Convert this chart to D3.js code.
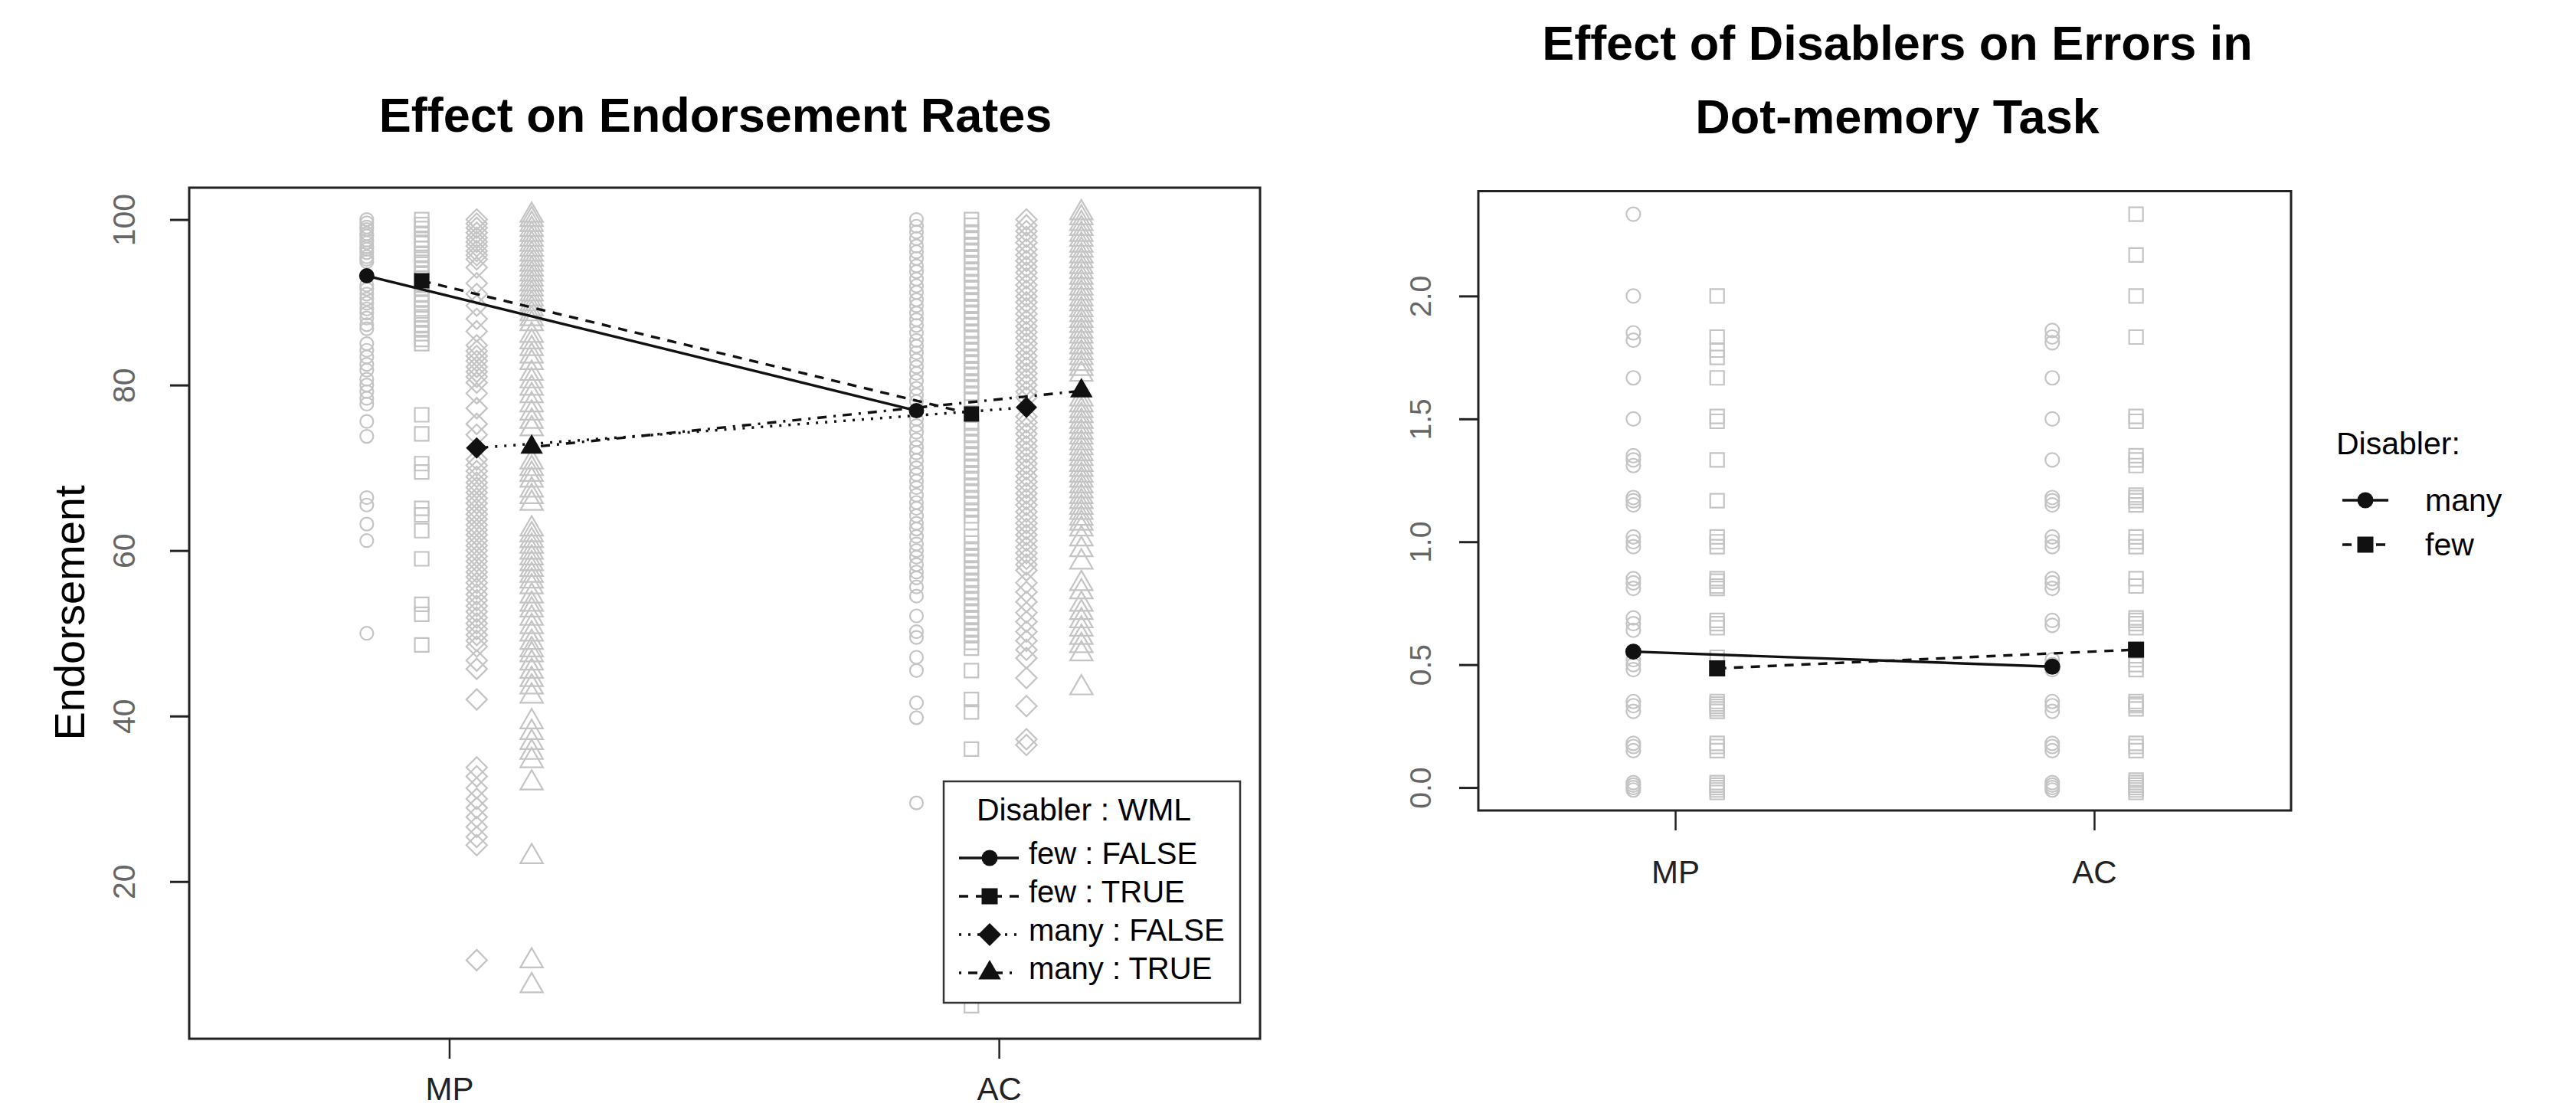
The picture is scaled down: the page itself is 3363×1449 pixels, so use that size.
<!DOCTYPE html>
<html>
<head>
<meta charset="utf-8">
<script src="https://cdn.jsdelivr.net/npm/d3@7"></script>
<style>
body { margin: 0; background: #fff; }
text { font-family: "Liberation Sans", Arial, sans-serif; }
</style>
</head>
<body>
<script>
// ---------------- data ----------------
const conditions = ["MP", "AC"];

// left panel: Disabler : WML
const leftGroups = ["few : FALSE", "few : TRUE", "many : FALSE", "many : TRUE"];
const meanFewFalse = [93.2, 76.9];
const meanFewTrue = [92.6, 76.5];
const meanManyFalse = [72.4, 77.3];
const meanManyTrue = [72.5, 79.3];

const rawFewFalseMP = [100, 99.6, 99.1, 98.8, 98.3, 98, 97.5, 97.2, 96.7, 96.4, 96, 95.5, 95.2, 94.9,
  92.1, 91.6, 91, 90.4, 89.9, 89.2, 88.7, 88.1, 87.3, 86.8, 85, 84.2, 83.4, 82.5, 81.8, 80.7, 80, 79.2,
  78.4, 77.7, 75.6, 73.8, 66.4, 65.5, 63.2, 61.2, 50];
const rawFewFalseAC = [100, 99.2, 98.5, 97.7, 96.8, 96.1, 95.3, 94.4, 93.7, 92.8, 92, 91.2, 90.3, 89.6,
  88.7, 87.9, 87.2, 86.3, 85.4, 84.7, 83.9, 83, 82.2, 81.4, 80.5, 79.6, 78.8, 78, 75.9, 75.1, 74.3, 73.4,
  72.5, 71.8, 70.9, 70, 69.2, 68.4, 67.6, 66.7, 65.8, 65.1, 64.2, 63.3, 62.6, 61.7, 60.8, 60, 59.2, 58.3,
  57.4, 56.7, 55.6, 54.5, 52.1, 50.2, 49.5, 47.1, 45.5, 41.6, 39.8, 29.5];
const rawFewTrueMP = [100, 99.4, 98.9, 98.2, 97.6, 97.1, 96.5, 95.8, 95.2, 94.6, 94, 93.4, 92.9, 92.2,
  91.7, 91, 90.4, 89.9, 89.2, 88.6, 88, 87.3, 86.8, 86.2, 85.5, 85, 76.4, 74.1, 70.5, 69.5, 65.1, 64.3,
  62.4, 59, 53.5, 52.3, 48.6];
const rawFewTrueAC = [100, 99.3, 98.5, 97.8, 97, 96.3, 95.5, 94.8, 94, 93.3, 92.5, 91.8, 91, 90.3, 89.5,
  88.8, 88, 87.3, 86.5, 85.8, 85, 84.3, 83.5, 82.8, 82, 81.3, 80.5, 79.8, 79, 78.3, 75.4, 74.7, 73.9, 73.2,
  72.4, 71.7, 70.9, 70.2, 69.4, 68.7, 67.9, 67.2, 66.4, 65.7, 64.9, 64.2, 63.4, 61.7, 60.9, 60.2, 59.4,
  58.7, 57.9, 57.2, 56.4, 55.7, 54.9, 54.2, 53.4, 52.7, 51.9, 51.2, 50.4, 49.7, 48.9, 48.2, 45.5, 42, 40.5,
  36, 5];
const rawManyFalseMP = [100, 99.5, 99, 98.4, 97.8, 97.3, 96.8, 96.2, 95.7, 95.2, 94.2, 92.3, 91, 89.6, 88,
  86.5, 84.8, 84.1, 83.5, 82.9, 82.2, 81.6, 81, 80.3, 79, 77.2, 75.3, 74, 71, 70.3, 69.6, 68.9, 68.2, 67.6,
  67, 66.3, 65.7, 65, 64.4, 63.8, 63.1, 62.5, 61.9, 61.2, 60.6, 60, 59.3, 58.7, 58, 57.4, 56.8, 56.1, 55.4,
  54.7, 54, 53.3, 52.6, 51.9, 51.2, 50.5, 49.8, 49.1, 48.4, 46.7, 45.7, 42, 33.8, 32.7, 31.3, 30, 28.9, 27.8,
  26.6, 25.4, 24.4, 10.5];
const rawManyFalseAC = [100, 99.3, 98.6, 97.9, 97.2, 96.4, 95.7, 95, 94.3, 93.6, 92.9, 92.1, 91.4, 90.7,
  90, 89.3, 88.6, 87.8, 87.1, 86.4, 85.7, 85, 84.3, 83.5, 82.8, 82.1, 81.4, 80.7, 80, 79.2, 78.5, 76.2,
  75.5, 74.8, 74.1, 73.3, 72.6, 71.9, 71.2, 70.5, 69.8, 69, 68.3, 67.6, 66.9, 66.2, 65.5, 64.7, 64, 63.3,
  62.6, 61.9, 61.2, 60.4, 59.7, 59, 58.3, 57.6, 56.1, 55, 53.8, 52.5, 51.4, 50.2, 49.1, 48, 47, 44.6, 41.2,
  37.2, 36.5];
const rawManyTrueMP = [100.5, 100, 99.4, 98.8, 98.2, 97.6, 97, 96.4, 95.8, 95.2, 94.6, 94, 93.4, 92.8,
  92.2, 91.6, 91, 90.4, 89.8, 89.2, 88.6, 88, 87.4, 86, 85.2, 84.4, 83.5, 82.7, 81.4, 80.5, 79.6, 78.7,
  77.6, 76.6, 75.6, 74.7, 70.7, 69.9, 69.2, 68.5, 67.3, 66.5, 65.7, 62.6, 61.9, 61.2, 60.5, 59.8, 59.1,
  58.4, 57.7, 57, 56.3, 55.6, 54.5, 53.5, 52.8, 51.8, 50.8, 49.9, 48.9, 48, 47.4, 46.4, 45.4, 44.4, 43.5,
  42.4, 39.3, 38, 36.8, 35.6, 34.6, 31.9, 23, 10.4, 7.4];
const rawManyTrueAC = [100.8, 100.2, 99.5, 98.9, 98.2, 97.6, 96.9, 96.3, 95.6, 95, 94.3, 93.7, 93, 92.4,
  91.7, 91.1, 90.4, 89.8, 89.1, 88.5, 87.8, 87.2, 86.5, 85.9, 85.2, 84.6, 83.9, 83.3, 82.6, 82, 81.3, 78.3,
  77.6, 76.9, 76.3, 75.6, 75, 74.3, 73.7, 73, 72.4, 71.7, 71.1, 70.4, 69.8, 69.1, 68.5, 67.8, 67.2, 66.5,
  65.9, 65.2, 64.6, 63.9, 63.3, 62.6, 61.4, 60.1, 58.6, 56, 55, 53.5, 52.5, 51.5, 50.5, 49.5, 48.5, 47.5, 43.4];
const leftYTicks = [20, 40, 60, 80, 100];

// right panel: Disabler
const rightGroups = ["many", "few"];
const meanMany = [0.553, 0.492];
const meanFew = [0.485, 0.561];
const rawManyMP = [2.333, 2.0, 1.85, 1.82, 1.667, 1.5, 1.35, 1.333, 1.31, 1.18, 1.167, 1.15, 1.02, 1.0,
  0.98, 0.85, 0.833, 0.81, 0.69, 0.667, 0.64, 0.52, 0.5, 0.48, 0.35, 0.333, 0.31, 0.18, 0.167, 0.15, 0.02,
  0.01, 0, -0.01];
const rawManyAC = [1.86, 1.833, 1.81, 1.667, 1.5, 1.333, 1.18, 1.167, 1.15, 1.02, 1.0, 0.98, 0.85, 0.833,
  0.81, 0.68, 0.66, 0.52, 0.5, 0.48, 0.35, 0.333, 0.31, 0.18, 0.167, 0.15, 0.02, 0.01, 0, -0.01];
const rawFewMP = [2.0, 1.833, 1.78, 1.75, 1.667, 1.51, 1.49, 1.333, 1.167, 1.02, 1.0, 0.98, 0.85, 0.84,
  0.82, 0.81, 0.68, 0.667, 0.65, 0.53, 0.35, 0.34, 0.33, 0.32, 0.31, 0.18, 0.167, 0.15, 0.02, 0.01, 0,
  -0.01, -0.02];
const rawFewAC = [2.333, 2.167, 2.0, 1.833, 1.51, 1.49, 1.35, 1.333, 1.31, 1.19, 1.18, 1.167, 1.15, 1.02,
  1.0, 0.98, 0.85, 0.82, 0.69, 0.68, 0.667, 0.65, 0.52, 0.5, 0.48, 0.35, 0.34, 0.333, 0.32, 0.18, 0.167,
  0.15, 0.03, 0.02, 0.01, 0, -0.01, -0.02];
const rightYTicks = [0, 0.5, 1.0, 1.5, 2.0];

// ---------------- drawing ----------------
const W = 3363, H = 1449;
const GREY = "#c4c4c4";
const INK = "#111";

const svg = d3.select("body").append("svg")
  .attr("width", W)
  .attr("height", H)
  .style("background", "#fff");

// R-like plotting symbols, s = half size
function shape(type, s) {
  if (type === "circle") return `M${-s},0a${s},${s} 0 1,0 ${2 * s},0a${s},${s} 0 1,0 ${-2 * s},0Z`;
  if (type === "square") return `M${-s},${-s}h${2 * s}v${2 * s}h${-2 * s}Z`;
  if (type === "diamond") return `M0,${-s}L${s},0L0,${s}L${-s},0Z`;
  const h = s * Math.sqrt(3) / 2;
  return `M0,${-s}L${h},${s / 2}L${-h},${s / 2}Z`;
}
const openSize = { circle: 8.5, square: 9, diamond: 13.5, triangle: 17 };
const fillSize = { circle: 10, square: 10, diamond: 14, triangle: 17 };

function drawPanel(opt) {
  const x = d3.scaleLinear().domain(opt.xDomain).range([opt.left, opt.right]);
  const y = d3.scaleLinear().domain(opt.yDomain).range([opt.bottom, opt.top]);
  const g = svg.append("g");

  // raw observations
  opt.series.forEach((s, si) => {
    s.raw.forEach((vals, ci) => {
      g.append("g").selectAll("path")
        .data(vals)
        .join("path")
        .attr("d", shape(s.shape, opt.openSize[s.shape]))
        .attr("transform", d => `translate(${x(ci + 1 + opt.offsets[si])},${y(d)})`)
        .attr("fill", "none")
        .attr("stroke", GREY)
        .attr("stroke-width", 2.2);
    });
  });

  // mean lines
  opt.series.forEach((s, si) => {
    g.append("path")
      .attr("d", d3.line()
        .x((d, i) => x(i + 1 + opt.offsets[si]))
        .y(d => y(d))(s.means))
      .attr("fill", "none")
      .attr("stroke", INK)
      .attr("stroke-width", 3.4)
      .attr("stroke-dasharray", s.dash);
  });

  // mean symbols
  opt.series.forEach((s, si) => {
    g.append("g").selectAll("path")
      .data(s.means)
      .join("path")
      .attr("d", shape(s.shape, opt.fillSize[s.shape]))
      .attr("transform", (d, i) => `translate(${x(i + 1 + opt.offsets[si])},${y(d)})`)
      .attr("fill", INK);
  });

  // box
  g.append("rect")
    .attr("x", opt.left).attr("y", opt.top)
    .attr("width", opt.right - opt.left).attr("height", opt.bottom - opt.top)
    .attr("fill", "none").attr("stroke", "#222").attr("stroke-width", 3);

  // y axis
  const ya = g.append("g")
    .attr("transform", `translate(${opt.left},0)`)
    .call(d3.axisLeft(y).tickValues(opt.yTicks).tickSize(25).tickFormat(opt.yFormat));
  ya.select(".domain").remove();
  ya.selectAll(".tick line").attr("stroke", "#222").attr("stroke-width", 3);
  ya.selectAll(".tick text")
    .attr("transform", "rotate(-90)")
    .attr("x", 0).attr("y", -opt.yLabelOff).attr("dy", 0)
    .attr("text-anchor", "middle")
    .attr("fill", "#666")
    .style("font-size", opt.yFont + "px")
    .style("font-family", "'Liberation Sans', Arial, sans-serif");

  // x axis
  const xa = g.append("g")
    .attr("transform", `translate(0,${opt.bottom})`)
    .call(d3.axisBottom(x).tickValues([1, 2]).tickSize(26).tickFormat((d, i) => conditions[i]));
  xa.select(".domain").remove();
  xa.selectAll(".tick line").attr("stroke", "#222").attr("stroke-width", 2.5);
  xa.selectAll(".tick text")
    .attr("y", opt.xLabelOff).attr("dy", 0)
    .attr("fill", "#222")
    .style("font-size", "42px")
    .style("font-family", "'Liberation Sans', Arial, sans-serif");

  return { x, y, g };
}

// ---- left panel ----
const left = drawPanel({
  left: 247, right: 1645, top: 245, bottom: 1356,
  xDomain: [0.527, 2.475], yDomain: [1.0, 103.85],
  offsets: [-0.15, -0.05, 0.05, 0.15],
  openSize, fillSize,
  yTicks: leftYTicks, yFormat: d3.format("d"), yLabelOff: 71.5, yFont: 41, xLabelOff: 80,
  series: [
    { shape: "circle", dash: null, means: meanFewFalse, raw: [rawFewFalseMP, rawFewFalseAC] },
    { shape: "square", dash: "12,10", means: meanFewTrue, raw: [rawFewTrueMP, rawFewTrueAC] },
    { shape: "diamond", dash: "3,9", means: meanManyFalse, raw: [rawManyFalseMP, rawManyFalseAC] },
    { shape: "triangle", dash: "3,9,12,9", means: meanManyTrue, raw: [rawManyTrueMP, rawManyTrueAC] }
  ]
});

svg.append("text")
  .attr("x", 934).attr("y", 172)
  .attr("text-anchor", "middle")
  .style("font-size", "63px").style("font-weight", "bold")
  .text("Effect on Endorsement Rates");

svg.append("text")
  .attr("transform", "translate(90,800) rotate(-90)")
  .attr("text-anchor", "middle").attr("dy", "0.35em")
  .style("font-size", "56px")
  .text("Endorsement");

// left legend
const legL = svg.append("g");
legL.append("rect")
  .attr("x", 1232).attr("y", 1020).attr("width", 387).attr("height", 289)
  .attr("fill", "#fff").attr("stroke", "#333").attr("stroke-width", 2.5);
legL.append("text")
  .attr("x", 1415).attr("y", 1071).attr("text-anchor", "middle")
  .style("font-size", "41px")
  .text("Disabler : WML");
const legShapes = ["circle", "square", "diamond", "triangle"];
const legDash = [null, "12,10", "3,9", "3,9,12,9"];
const legItem = legL.selectAll(".item")
  .data(leftGroups)
  .join("g")
  .attr("class", "item")
  .attr("transform", (d, i) => `translate(0,${1128 + i * 50})`);
legItem.append("line")
  .attr("x1", 1252).attr("x2", 1330).attr("y1", -8).attr("y2", -8)
  .attr("stroke", INK).attr("stroke-width", 3.4)
  .attr("stroke-dasharray", (d, i) => legDash[i]);
legItem.append("path")
  .attr("d", (d, i) => shape(legShapes[i], i === 2 ? 15 : (i === 3 ? 17 : 10.5)))
  .attr("transform", "translate(1292,-8)")
  .attr("fill", INK);
legItem.append("text")
  .attr("x", 1343).attr("y", 0)
  .style("font-size", "40px")
  .text(d => d);

// ---- right panel ----
const right = drawPanel({
  left: 1930, right: 2991, top: 249.5, bottom: 1058,
  xDomain: [0.530, 2.470], yDomain: [-0.0933, 2.4267],
  offsets: [-0.1, 0.1],
  openSize: { circle: 9, square: 9 }, fillSize: { circle: 10.5, square: 10.5 },
  yTicks: rightYTicks, yFormat: d3.format(".1f"), yLabelOff: 62.5, yFont: 39, xLabelOff: 95,
  series: [
    { shape: "circle", dash: null, means: meanMany, raw: [rawManyMP, rawManyAC] },
    { shape: "square", dash: "12,10", means: meanFew, raw: [rawFewMP, rawFewAC] }
  ]
});

svg.append("text")
  .attr("x", 2477).attr("y", 78)
  .attr("text-anchor", "middle")
  .style("font-size", "63px").style("font-weight", "bold")
  .text("Effect of Disablers on Errors in");
svg.append("text")
  .attr("x", 2477).attr("y", 174)
  .attr("text-anchor", "middle")
  .style("font-size", "63px").style("font-weight", "bold")
  .text("Dot-memory Task");

// right legend
const legR = svg.append("g");
legR.append("text")
  .attr("x", 3050).attr("y", 593)
  .style("font-size", "41px")
  .text("Disabler:");
const legRItem = legR.selectAll(".item")
  .data(rightGroups)
  .join("g")
  .attr("class", "item")
  .attr("transform", (d, i) => `translate(0,${667 + i * 58})`);
legRItem.append("line")
  .attr("x1", 3058).attr("x2", 3118).attr("y1", -14).attr("y2", -14)
  .attr("stroke", INK).attr("stroke-width", 3.4)
  .attr("stroke-dasharray", (d, i) => i === 0 ? null : "12,10");
legRItem.append("path")
  .attr("d", (d, i) => shape(i === 0 ? "circle" : "square", 10.5))
  .attr("transform", "translate(3088,-14)")
  .attr("fill", INK);
legRItem.append("text")
  .attr("x", 3166).attr("y", 0)
  .style("font-size", "41px")
  .text(d => d);
</script>
</body>
</html>
